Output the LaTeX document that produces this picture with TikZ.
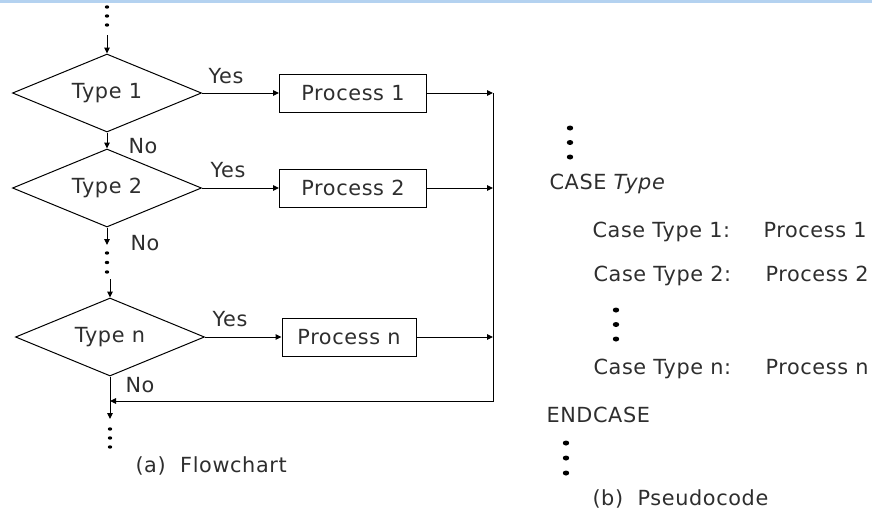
\documentclass[tikz,border=0pt]{standalone}
\usepackage{fontspec}
\setmainfont{DejaVu Sans}[LetterSpace=3]
\usetikzlibrary{shapes,arrows,arrows.meta}
\definecolor{inkgray}{HTML}{2E2E2E}
\definecolor{bandblue}{HTML}{B4D2F0}
\tikzstyle{every picture}=[x=1pt, y=-1pt, line width=1pt,%
	>={Stealth[length=6pt,width=5.5pt,inset=0pt]},%
	font=\fontsize{20.8}{24}\selectfont, text=inkgray]
\tikzstyle{test}=[diamond, draw, aspect=2.4, inner sep=0pt,%
	minimum width=189pt, minimum height=78pt]
\tikzstyle{proc}=[rectangle, draw, inner sep=0pt, minimum width=147pt, minimum height=38pt]
\tikzstyle{code}=[anchor=base west, inner sep=0pt]

\begin{document}
\begin{tikzpicture}[node distance=246pt]
	\useasboundingbox (0,0) rectangle (872,512);
	\fill[bandblue] (0,0) rectangle (872,3);
	% (a) flowchart
	\node[test] (T1) at (107,93) {Type 1};
	\node[test] (T2) at (107,188) {Type 2};
	\node[test] (Tn) at (110,337) {Type n};
	\node[proc] (P1) [right of=T1] {Process 1};
	\node[proc] (P2) [right of=T2] {Process 2};
	\node[proc, minimum width=134pt] (Pn) [right of=Tn, node distance=239pt] {Process n};
	\coordinate (top) at (107,35);
	\coordinate (gap) at (107,245);
	\coordinate (gap') at (110,279);
	\coordinate (end) at (110,419);
	\coordinate (rail) at (493,401);
	\draw (top) edge[->] (T1) (T1) edge[->] (T2) (T2) edge[->] (gap)
		(gap') edge[->] (Tn) (Tn) edge[->] (end);
	\draw (T1) edge[->] (P1) (T2) edge[->] (P2) (Tn) edge[->] (Pn);
	\draw (P1) edge[->] (P1 -| rail) (P2) edge[->] (P2 -| rail) (Pn) edge[->] (Pn -| rail);
	\draw[->] (P1 -| rail) -- (rail) -- (Tn |- rail);
	\node (yes1) at (226,76) {Yes};
	\node (yes2) at (228,170) {Yes};
	\node (yesn) at (230,319) {Yes};
	\node (no1) at (143,146) {No};
	\node (no2) at (145,243) {No};
	\node (non) at (140,385) {No};
	\node[code] (capa) at (135,472) {(a)\ \ Flowchart};
	% (b) pseudocode
	\node[code] (case) at (549,189) {CASE \textit{Type}};
	\node[code] (c1) at (592,237) {Case Type 1:};
	\node[code] (p1) at (763,237) {Process 1};
	\node[code] (c2) at (593,281) {Case Type 2:};
	\node[code] (p2) at (765,281) {Process 2};
	\node[code] (cn) at (593,374) {Case Type n:};
	\node[code] (pn) at (765,374) {Process n};
	\node[code] (endcase) at (546,422) {ENDCASE};
	\node[code] (capb) at (592,505) {(b)\ \ Pseudocode};
	% dots
	\foreach \x/\y/\s/\r in {107/7/9/2.2, 107/253/9.5/2.2, 110/429/9/2.2,%
		570/128/14.5/3.2, 616/310/14.5/3.2, 566/443/15/3.2}
		\foreach \i in {0,1,2}
			\fill (\x,\y+\i*\s) ellipse (\r pt and 0.78*\r pt);
\end{tikzpicture}
\end{document}
